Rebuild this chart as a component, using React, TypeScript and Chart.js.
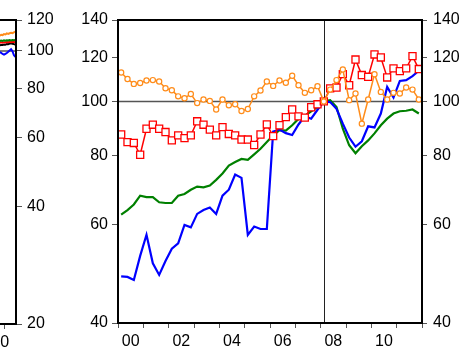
import React, { useEffect, useRef } from 'react';
import { Chart, registerables } from 'chart.js';

Chart.register(...registerables);

// ---------- data ----------
const MAIN_YEARS = [2000, 2001, 2002, 2003, 2004, 2005, 2006, 2007, 2008, 2009, 2010, 2011];
const QUARTERS: string[] = MAIN_YEARS.flatMap((y) => [1, 2, 3, 4].map((q) => `${y}Q${q}`));
const BASE_QUARTER = '2008Q1';

const ORANGE = [
  112.7, 109.7, 107.5, 107.9, 109.0, 109.2, 108.6, 105.6, 104.7, 102.1, 101.3, 103.1,
  99.3, 100.8, 100.2, 96.7, 100.8, 98.4, 98.8, 96.1, 96.9, 102.1, 104.6, 108.6,
  106.6, 109.0, 108.0, 111.2, 106.9, 103.6, 104.7, 106.5, 100.0, 105.0, 109.2, 114.1,
  100.5, 103.3, 91.2, 100.8, 111.9, 104.0, 100.8, 103.6, 103.3, 105.9, 105.0, 100.8,
];
const RED = [
  87.2, 84.5, 84.2, 80.2, 89.3, 90.8, 89.3, 88.1, 85.1, 86.9, 85.9, 86.9,
  92.1, 90.8, 89.0, 86.9, 89.9, 87.4, 86.9, 85.4, 85.4, 83.5, 87.2, 90.9,
  86.6, 90.6, 93.7, 96.7, 94.0, 93.5, 97.6, 98.8, 100.0, 105.5, 105.9, 111.9,
  106.9, 118.9, 111.5, 110.7, 121.4, 119.9, 110.4, 114.6, 113.3, 114.6, 120.6, 114.3,
];
const BLUE = [
  48.5, 48.4, 47.8, 52.8, 57.6, 51.2, 48.8, 51.7, 54.4, 55.6, 60.0, 59.4,
  62.8, 63.8, 64.5, 62.8, 67.7, 69.4, 73.9, 72.9, 57.6, 59.6, 59.0, 59.0,
  88.3, 89.0, 87.7, 87.0, 90.9, 94.0, 93.1, 96.6, 100.0, 99.7, 97.0, 91.2,
  86.1, 82.9, 84.8, 90.2, 89.8, 95.1, 106.2, 101.6, 108.8, 109.2, 111.0, 113.5,
];
const GREEN = [
  62.6, 63.8, 65.3, 67.7, 67.3, 67.3, 65.9, 65.7, 65.7, 67.7, 68.2, 69.4,
  70.3, 70.1, 70.6, 72.3, 74.2, 76.7, 77.8, 78.8, 78.5, 80.3, 82.2, 84.5,
  86.9, 88.8, 88.6, 90.6, 93.0, 94.2, 96.0, 97.8, 100.0, 100.5, 97.7, 89.3,
  83.4, 80.7, 83.1, 85.1, 87.6, 90.6, 93.1, 95.1, 96.0, 96.2, 96.7, 95.1,
];

const MAIN_Y_TICKS = [40, 60, 80, 100, 120, 140];
const MAIN_X_TICK_YEARS = [2000, 2001, 2002, 2003, 2004, 2005, 2006, 2007, 2008, 2009, 2010, 2011, 2012];
const MAIN_X_LABEL_YEARS = [2000, 2002, 2004, 2006, 2008, 2010];

// left (partially visible) panel
const LEFT_YEARS = [2009, 2010, 2011];
const LEFT_QUARTERS: string[] = LEFT_YEARS.flatMap((y) => [1, 2, 3, 4].map((q) => `${y}Q${q}`));
const LEFT_ORANGE = [109.5, 110.0, 109.8, 110.4, 110.2, 110.9, 110.6, 111.0, 111.3, 111.1, 111.6, 112.0];
const LEFT_GREEN = [106.0, 106.3, 106.1, 106.4, 106.2, 106.5, 106.3, 106.6, 106.4, 106.7, 106.5, 106.6];
const LEFT_RED = [105.0, 105.2, 105.0, 105.3, 105.1, 105.4, 105.2, 105.5, 105.3, 105.6, 105.4, 105.2];
const LEFT_BLACK = [103.4, 103.6, 103.5, 103.9, 103.7, 104.2, 104.0, 104.4, 104.6, 104.3, 104.1, 103.8];
const LEFT_BLUE = [99.2, 98.9, 98.2, 97.8, 98.3, 98.8, 99.5, 100.3, 101.0, 99.8, 97.6, 96.5];
const LEFT_Y_TICKS = [20, 40, 60, 80, 100, 120];
const LEFT_X_TICK_YEARS = [1980, 1985, 1990, 1995, 2000, 2005, 2010];

// ---------- helpers ----------
const quarterToX = (label: string) => {
  const y = Number(label.slice(0, 4));
  const q = Number(label.slice(5));
  return y + (q - 0.5) / 4;
};
const toPoints = (labels: string[], vals: number[]) => labels.map((l, i) => ({ x: quarterToX(l), y: vals[i] }));
const twoDigit = (y: number) => String(y % 100).padStart(2, '0');

const FONT = { family: "'Liberation Sans', Arial, sans-serif", size: 16 };
const C_ORANGE = '#ff8c1a';
const C_RED = '#ff0000';
const C_BLUE = '#0000ff';
const C_GREEN = '#008000';
const TICK_COLOR = '#555555';

const framePlugin = {
  id: 'frame',
  beforeDatasetsDraw(chart: any, _args: any, opts: any) {
    const { ctx, chartArea: a, scales } = chart;
    ctx.save();
    if (opts.hLine != null) {
      const y = scales[opts.yScale].getPixelForValue(opts.hLine);
      ctx.strokeStyle = '#555555';
      ctx.lineWidth = 1.5;
      ctx.beginPath();
      ctx.moveTo(a.left, y);
      ctx.lineTo(a.right, y);
      ctx.stroke();
    }
    if (opts.vLine != null) {
      const x = scales.x.getPixelForValue(opts.vLine);
      ctx.strokeStyle = '#222222';
      ctx.lineWidth = 1;
      ctx.beginPath();
      ctx.moveTo(Math.round(x) + 0.5, a.top);
      ctx.lineTo(Math.round(x) + 0.5, a.bottom);
      ctx.stroke();
    }
    ctx.restore();
  },
  afterDraw(chart: any) {
    const { ctx, chartArea: a } = chart;
    ctx.save();
    ctx.strokeStyle = '#000000';
    ctx.lineWidth = 2;
    ctx.strokeRect(a.left, a.top, a.right - a.left, a.bottom - a.top);
    ctx.restore();
  },
};

const lineDs = (label: string, data: any[], color: string, width: number, extra: any = {}) => ({
  label,
  data,
  borderColor: color,
  backgroundColor: color,
  borderWidth: width,
  pointRadius: 0,
  tension: 0,
  fill: false,
  ...extra,
});

export default function App() {
  const mainRef = useRef<HTMLCanvasElement>(null);
  const leftRef = useRef<HTMLCanvasElement>(null);

  useEffect(() => {
    Chart.defaults.font.family = FONT.family;

    const yAxis = (position: 'left' | 'right', ticks: number[], min: number, max: number, width: number, tickLength: number, padding: number) => ({
      type: 'logarithmic' as const,
      position,
      min,
      max,
      afterBuildTicks: (s: any) => {
        s.ticks = ticks.map((v) => ({ value: v }));
      },
      afterFit: (s: any) => {
        s.width = width;
      },
      ticks: {
        font: FONT,
        color: '#000',
        padding,
        autoSkip: false,
        callback: (v: any) => String(v),
      },
      grid: { drawOnChartArea: false, drawTicks: true, tickLength, tickColor: TICK_COLOR, tickWidth: 1 },
      border: { display: false },
    });

    const mainX = [...MAIN_X_TICK_YEARS, ...MAIN_X_LABEL_YEARS.map((y) => y + 0.5)].sort((a, b) => a - b);

    const main = new Chart(mainRef.current!, {
      type: 'line',
      data: {
        datasets: [
          lineDs('orange', toPoints(QUARTERS, ORANGE), C_ORANGE, 1.5, {
            pointRadius: 2.6,
            pointStyle: 'circle',
            pointBorderWidth: 1.2,
            pointBackgroundColor: '#ffffff',
            pointBorderColor: C_ORANGE,
          }),
          lineDs('red', toPoints(QUARTERS, RED), C_RED, 1.5, {
            pointRadius: 5,
            pointStyle: 'rect',
            pointBorderWidth: 1.3,
            pointBackgroundColor: '#ffffff',
            pointBorderColor: C_RED,
          }),
          lineDs('blue', toPoints(QUARTERS, BLUE), C_BLUE, 2.2),
          lineDs('green', toPoints(QUARTERS, GREEN), C_GREEN, 2.2),
        ],
      },
      options: {
        animation: false,
        responsive: false,
        maintainAspectRatio: false,
        layout: { padding: { left: 0, top: 20, right: 0, bottom: 0 } },
        plugins: {
          legend: { display: false },
          tooltip: { enabled: false },
          frame: { hLine: 100, yScale: 'y', vLine: quarterToX(BASE_QUARTER) },
        } as any,
        scales: {
          x: {
            type: 'linear',
            min: 2000,
            max: 2012,
            afterBuildTicks: (s: any) => {
              s.ticks = mainX.map((v) => ({ value: v }));
            },
            afterFit: (s: any) => {
              s.height = 24;
            },
            ticks: {
              font: FONT,
              color: '#000',
              padding: 4,
              autoSkip: false,
              maxRotation: 0,
              callback: (v: any) => {
                const f = Math.floor(v);
                return v - f === 0.5 && MAIN_X_LABEL_YEARS.includes(f) ? twoDigit(f) : '';
              },
            },
            grid: {
              drawOnChartArea: false,
              drawTicks: true,
              tickLength: 5,
              tickWidth: 1,
              tickColor: (ctx: any) => (ctx.tick && Number.isInteger(ctx.tick.value) ? TICK_COLOR : 'rgba(0,0,0,0)'),
            },
            border: { display: false },
          },
          y: yAxis('left', MAIN_Y_TICKS, 40, 140, 58, 6, 4),
          y2: yAxis('right', MAIN_Y_TICKS, 40, 140, 40, 5, 6),
        } as any,
      },
      plugins: [framePlugin],
    });

    const left = new Chart(leftRef.current!, {
      type: 'line',
      data: {
        datasets: [
          lineDs('orange', toPoints(LEFT_QUARTERS, LEFT_ORANGE), C_ORANGE, 2),
          lineDs('green', toPoints(LEFT_QUARTERS, LEFT_GREEN), C_GREEN, 2),
          lineDs('red', toPoints(LEFT_QUARTERS, LEFT_RED), C_RED, 2),
          lineDs('black', toPoints(LEFT_QUARTERS, LEFT_BLACK), '#000000', 2),
          lineDs('blue', toPoints(LEFT_QUARTERS, LEFT_BLUE), C_BLUE, 2),
        ],
      },
      options: {
        animation: false,
        responsive: false,
        maintainAspectRatio: false,
        layout: { padding: { left: 135, top: 20, right: 0, bottom: 0 } },
        plugins: {
          legend: { display: false },
          tooltip: { enabled: false },
          frame: { hLine: 100, yScale: 'y' },
        } as any,
        scales: {
          x: {
            type: 'linear',
            min: 1980,
            max: 2012,
            afterBuildTicks: (s: any) => {
              s.ticks = LEFT_X_TICK_YEARS.map((v) => ({ value: v }));
            },
            afterFit: (s: any) => {
              s.height = 23;
            },
            ticks: {
              font: FONT,
              color: '#000',
              padding: 4,
              autoSkip: false,
              maxRotation: 0,
              labelOffset: -4.5,
              callback: (v: any) => twoDigit(Number(v)),
            },
            grid: { drawOnChartArea: false, drawTicks: true, tickLength: 5, tickWidth: 1, tickColor: TICK_COLOR },
            border: { display: false },
          },
          y: yAxis('right', LEFT_Y_TICKS, 20, 120, 44, 6, 5),
        } as any,
      },
      plugins: [framePlugin],
    });

    return () => {
      main.destroy();
      left.destroy();
    };
  }, []);

  return (
    <div style={{ position: 'fixed', left: 0, top: 0, width: 462, height: 347, overflow: 'hidden', background: '#fff' }}>
      <canvas
        ref={leftRef}
        width={360}
        height={347}
        style={{ position: 'absolute', left: -300, top: 0, width: 360, height: 347 }}
      />
      <canvas
        ref={mainRef}
        width={402}
        height={347}
        style={{ position: 'absolute', left: 60, top: 0, width: 402, height: 347 }}
      />
    </div>
  );
}
